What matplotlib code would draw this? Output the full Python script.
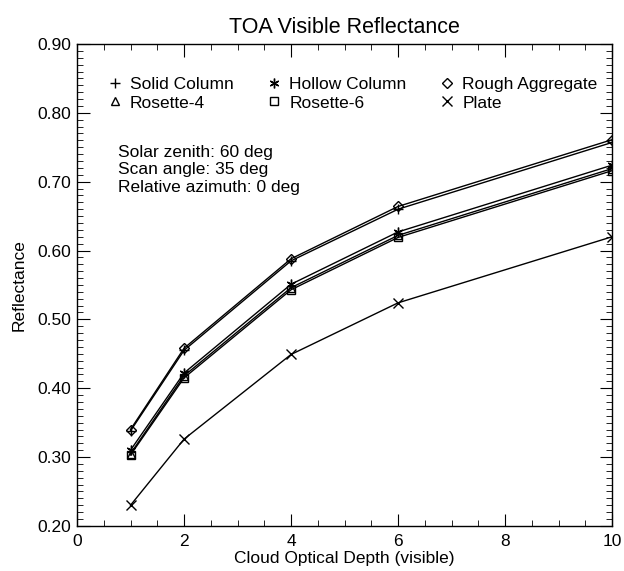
import matplotlib.pyplot as plt
from matplotlib.ticker import MultipleLocator, FormatStrFormatter

# Cloud optical depth and reflectance for each crystal habit
depth = [1, 2, 4, 6, 10]
solid_column = [0.338, 0.455, 0.585, 0.660, 0.757]
rough_aggregate = [0.340, 0.458, 0.588, 0.664, 0.761]
hollow_column = [0.310, 0.422, 0.551, 0.627, 0.724]
rosette4 = [0.305, 0.418, 0.546, 0.622, 0.719]
rosette6 = [0.303, 0.415, 0.543, 0.619, 0.716]
plate = [0.230, 0.326, 0.449, 0.524, 0.620]

notes = ['Solar zenith: 60 deg', 'Scan angle: 35 deg', 'Relative azimuth: 0 deg']

plt.rcParams['font.family'] = ['Liberation Sans', 'DejaVu Sans']

fig = plt.figure(figsize=(6.24, 5.71), dpi=100)
ax = fig.add_axes([0.1234, 0.079, 0.8576, 0.844])

series = [
    ('Solid Column', solid_column, '+', 7),
    ('Rosette-4', rosette4, '^', 6),
    ('Hollow Column', hollow_column, (6, 2, 0), 7),
    ('Rosette-6', rosette6, 's', 6),
    ('Rough Aggregate', rough_aggregate, 'D', 5),
    ('Plate', plate, 'x', 7),
]

for name, vals, mk, ms in series:
    ax.plot(depth, vals, color='black', lw=1.0, marker=mk, ms=ms,
            mfc='none', mec='black', mew=1.0, label=name)

leg = ax.legend(ncol=3, loc='upper left', bbox_to_anchor=(0.058, 0.932),
                frameon=False, fontsize=12.5, handlelength=0.8,
                handletextpad=0.46, columnspacing=1.95, labelspacing=0.2,
                borderpad=0, borderaxespad=0)
for h in leg.legend_handles:
    h.set_linestyle('none')

for i, t in enumerate(notes):
    ax.text(0.77, 0.743 - i * 0.026, t, fontsize=12.5, va='center')

ax.set_xlim(0, 10)
ax.set_ylim(0.20, 0.90)
ax.xaxis.set_major_locator(MultipleLocator(2))
ax.xaxis.set_minor_locator(MultipleLocator(0.5))
ax.yaxis.set_major_locator(MultipleLocator(0.1))
ax.yaxis.set_minor_locator(MultipleLocator(0.01))
ax.yaxis.set_major_formatter(FormatStrFormatter('%.2f'))
ax.tick_params(which='both', direction='in', top=True, right=True, labelsize=12.5)
ax.tick_params(which='major', length=9, pad=4)
ax.tick_params(which='minor', length=4)
ax.tick_params(axis='x', which='major', pad=6)
for s in ax.spines.values():
    s.set_linewidth(1.0)

ax.set_title('TOA Visible Reflectance', fontsize=15.5, pad=8)
ax.set_xlabel('Cloud Optical Depth (visible)', fontsize=12.5, labelpad=1)
ax.set_ylabel('Reflectance', fontsize=12.5, labelpad=8)

fig.savefig('out.png', dpi=100)
